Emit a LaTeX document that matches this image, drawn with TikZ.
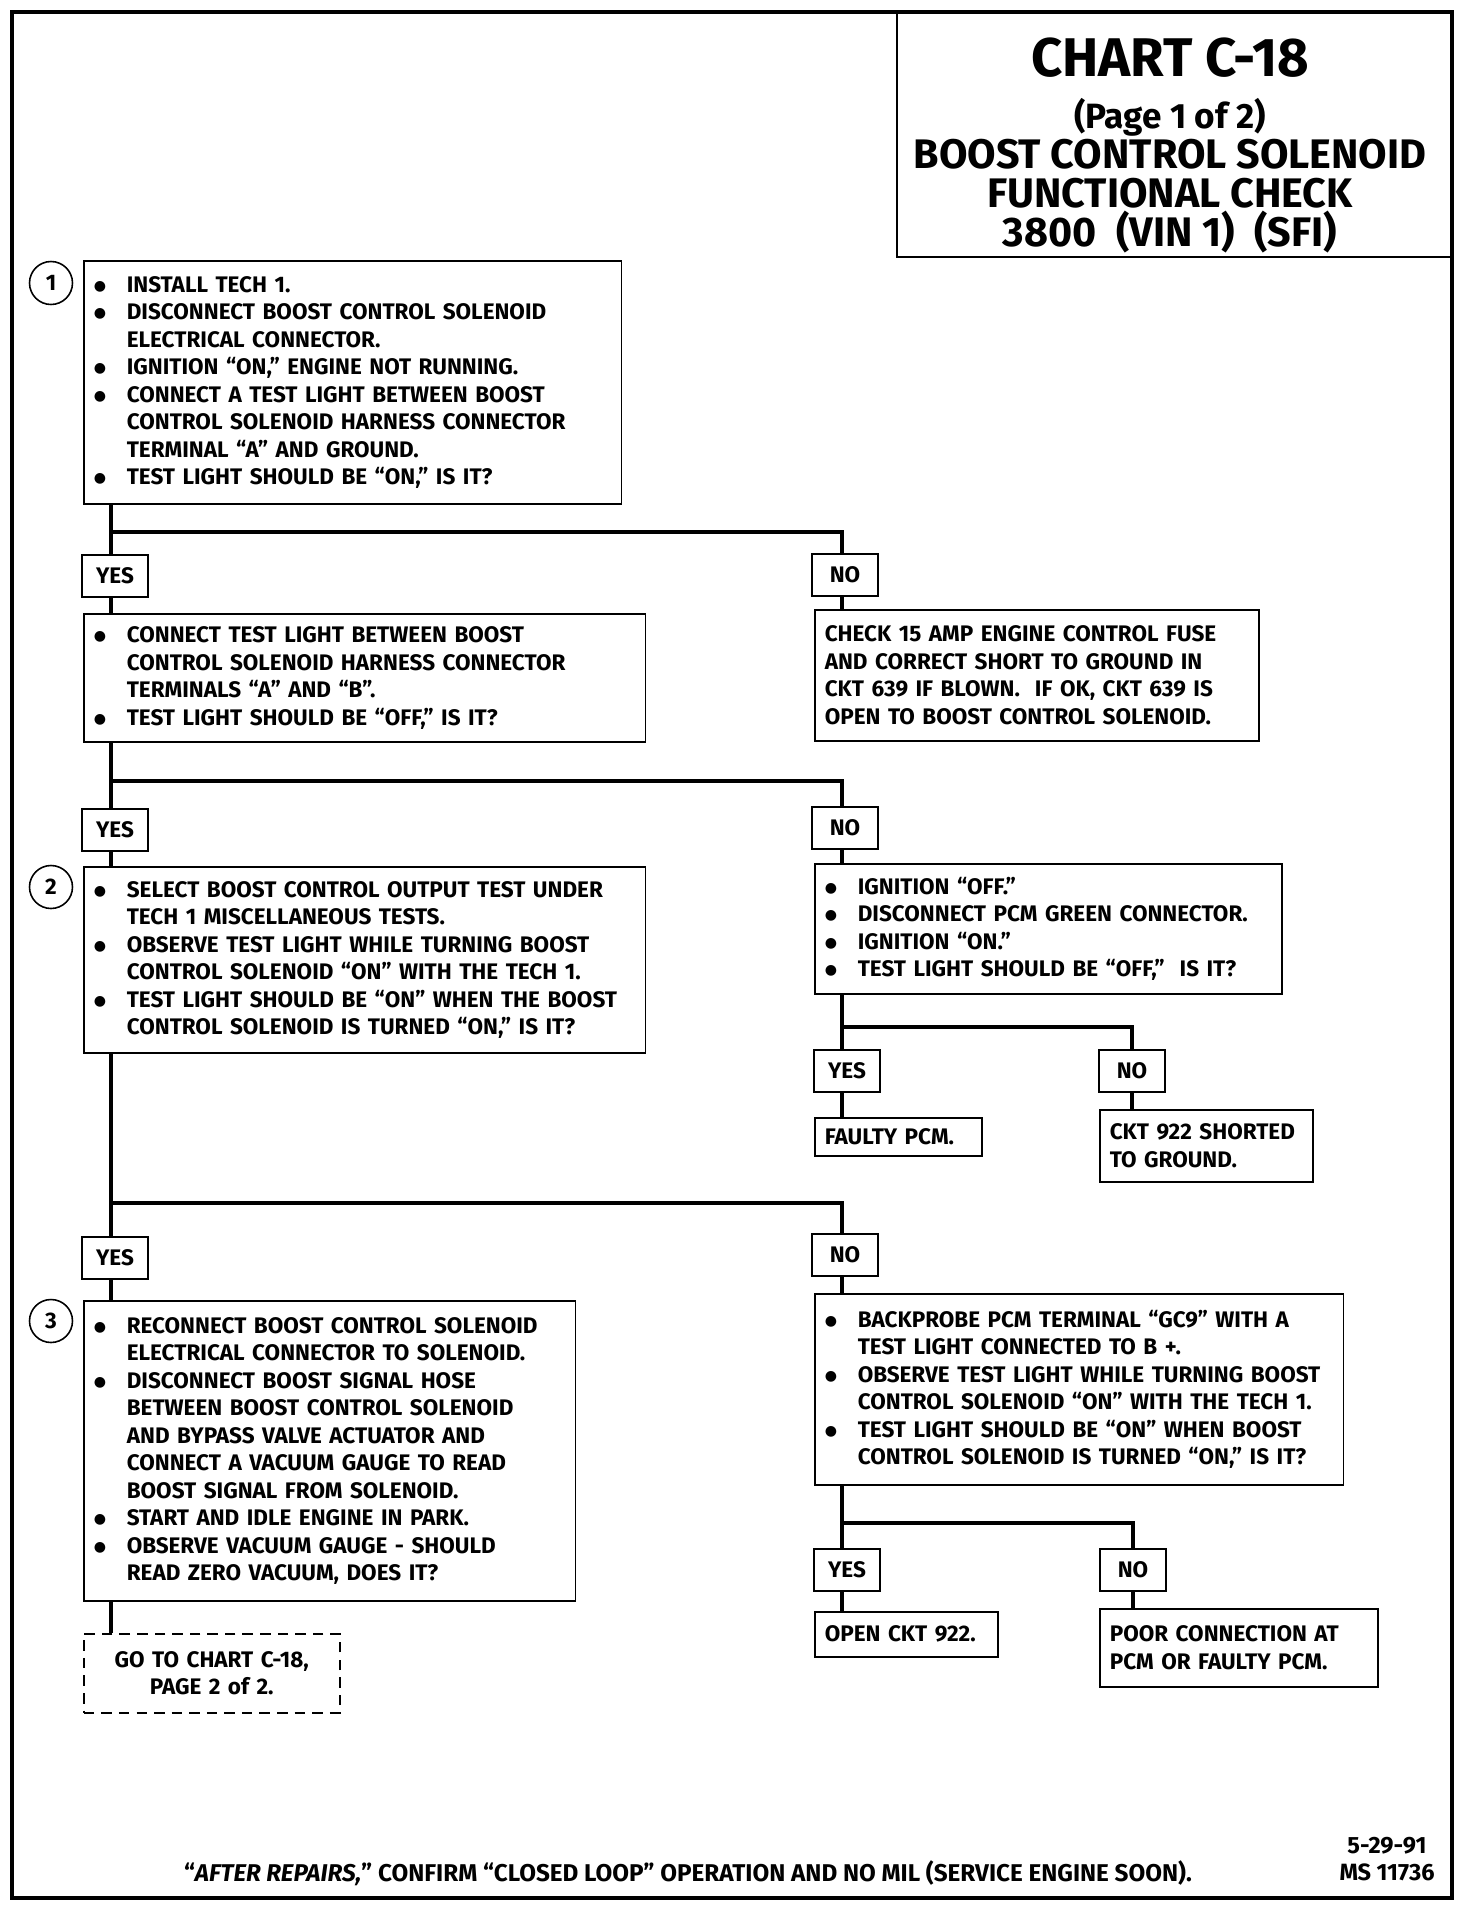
\documentclass[tikz,border=0pt]{standalone}
\usepackage{fontspec}
\setmainfont{Fira Sans}
\newfontfamily\symfont{DejaVu Sans}
\newcommand{\bodyfont}{\fontsize{12.8}{15.65}\selectfont\bfseries}
\newcommand{\bul}{\makebox[18.8pt][l]{\raisebox{1pt}{\symfont\fontsize{8}{8}\selectfont ●}}}
\newcommand{\ind}{\hspace*{18.8pt}}

\begin{document}
\begin{tikzpicture}[
    x=0.02cm, y=-0.02cm,
    wire/.style={line width=2.6pt},
    chkbox/.style={draw, line width=0.9pt, anchor=north west, align=left, inner xsep=0.2cm, inner ysep=0pt, font=\bodyfont},
    answer/.style={draw, line width=0.9pt, minimum width=1.32cm, minimum height=0.84cm, inner sep=0pt, font=\bodyfont},
    stepnum/.style={draw, circle, line width=0.9pt, minimum size=0.86cm, inner sep=0pt, font=\bodyfont},
    pagelink/.style={chkbox, align=center, dash pattern=on 6pt off 4pt}
]
    \useasboundingbox (0,0) rectangle (1472,1910);
    \draw[line width=2.2pt] (12,12) rectangle (1452,1898);

    % title block
    \node[draw, line width=1.4pt, anchor=north west, minimum width=11.12cm, minimum height=4.88cm] (titlebox) at (896,12) {};
    \node[font=\fontsize{31}{33}\selectfont\bfseries] (chart) at (1170,58) {CHART C-18};
    \node[font=\fontsize{20}{22}\selectfont\bfseries] (page) at (1170,117) {(Page 1 of 2)};
    \node[font=\fontsize{23.5}{25}\selectfont\bfseries] (ttla) at (1170,154) {BOOST CONTROL SOLENOID};
    \node[font=\fontsize{23.5}{25}\selectfont\bfseries] (ttlb) at (1170,193) {FUNCTIONAL CHECK};
    \node[font=\fontsize{23.5}{25}\selectfont\bfseries] (ttlc) at (1170,232) {3800\ \ (VIN 1)\ \ (SFI)};

    % step 1
    \node[stepnum] (step1) at (51,283) {1};
    \node[chkbox, text width=10.36cm, minimum height=4.86cm] (chk1) at (83,260) {\bul INSTALL TECH 1.\\
        \bul DISCONNECT BOOST CONTROL SOLENOID\\
        \ind ELECTRICAL CONNECTOR.\\
        \bul IGNITION “ON,” ENGINE NOT RUNNING.\\
        \bul CONNECT A TEST LIGHT BETWEEN BOOST\\
        \ind CONTROL SOLENOID HARNESS CONNECTOR\\
        \ind TERMINAL “A” AND GROUND.\\
        \bul TEST LIGHT SHOULD BE “ON,” IS IT?};
    \coordinate (br1) at (111,532);
    \node[answer] (yes1) at (115,576) {YES};
    \node[answer] (no1) at (845,575) {NO};
    \node[chkbox, text width=10.84cm, minimum height=2.56cm] (chk1b) at (83,613) {\bul CONNECT TEST LIGHT BETWEEN BOOST\\
        \ind CONTROL SOLENOID HARNESS CONNECTOR\\
        \ind TERMINALS “A” AND “B”.\\
        \bul TEST LIGHT SHOULD BE “OFF,” IS IT?};
    \node[chkbox, text width=8.48cm, minimum height=2.62cm] (fuse) at (814,609) {CHECK 15 AMP ENGINE CONTROL FUSE\\
        AND CORRECT SHORT TO GROUND IN\\
        CKT 639 IF BLOWN.\ \ IF OK, CKT 639 IS\\
        OPEN TO BOOST CONTROL SOLENOID.};

    % step 2
    \coordinate (br2) at (111,781);
    \node[answer] (yes2) at (115,830) {YES};
    \node[answer] (no2) at (845,828) {NO};
    \node[stepnum] (step2) at (51,887) {2};
    \node[chkbox, text width=10.84cm, minimum height=3.72cm] (chk2) at (83,866) {\bul SELECT BOOST CONTROL OUTPUT TEST UNDER\\
        \ind TECH 1 MISCELLANEOUS TESTS.\\
        \bul OBSERVE TEST LIGHT WHILE TURNING BOOST\\
        \ind CONTROL SOLENOID “ON” WITH THE TECH 1.\\
        \bul TEST LIGHT SHOULD BE “ON” WHEN THE BOOST\\
        \ind CONTROL SOLENOID IS TURNED “ON,” IS IT?};
    \node[chkbox, text width=8.94cm, minimum height=2.6cm] (pcmoff) at (814,863) {\bul IGNITION “OFF.”\\
        \bul DISCONNECT PCM GREEN CONNECTOR.\\
        \bul IGNITION “ON.”\\
        \bul TEST LIGHT SHOULD BE “OFF,”\ \ IS IT?};
    \coordinate (br2b) at (842,1027);
    \node[answer] (yes2b) at (847,1071) {YES};
    \node[answer] (no2b) at (1132,1071) {NO};
    \node[chkbox, text width=2.94cm, minimum height=0.76cm] (faulty) at (814,1117) {FAULTY PCM.};
    \node[chkbox, text width=3.86cm, minimum height=1.44cm] (short) at (1099,1109) {CKT 922 SHORTED\\
        TO GROUND.};

    % step 3
    \coordinate (br3) at (111,1203);
    \node[answer] (yes3) at (115,1258) {YES};
    \node[answer] (no3) at (845,1255) {NO};
    \node[stepnum] (step3) at (51,1321) {3};
    \node[chkbox, text width=9.44cm, minimum height=6.0cm] (chk3) at (83,1300) {\bul RECONNECT BOOST CONTROL SOLENOID\\
        \ind ELECTRICAL CONNECTOR TO SOLENOID.\\
        \bul DISCONNECT BOOST SIGNAL HOSE\\
        \ind BETWEEN BOOST CONTROL SOLENOID\\
        \ind AND BYPASS VALVE ACTUATOR AND\\
        \ind CONNECT A VACUUM GAUGE TO READ\\
        \ind BOOST SIGNAL FROM SOLENOID.\\
        \bul START AND IDLE ENGINE IN PARK.\\
        \bul OBSERVE VACUUM GAUGE - SHOULD\\
        \ind READ ZERO VACUUM, DOES IT?};
    \node[chkbox, text width=10.18cm, minimum height=3.82cm] (probe) at (814,1293) {\bul BACKPROBE PCM TERMINAL “GC9” WITH A\\
        \ind TEST LIGHT CONNECTED TO B +.\\
        \bul OBSERVE TEST LIGHT WHILE TURNING BOOST\\
        \ind CONTROL SOLENOID “ON” WITH THE TECH 1.\\
        \bul TEST LIGHT SHOULD BE “ON” WHEN BOOST\\
        \ind CONTROL SOLENOID IS TURNED “ON,” IS IT?};
    \coordinate (br3b) at (842,1523);
    \node[answer] (yes3b) at (847,1570) {YES};
    \node[answer] (no3b) at (1133,1570) {NO};
    \node[chkbox, text width=3.26cm, minimum height=0.9cm] (openckt) at (814,1611) {OPEN CKT 922.};
    \node[chkbox, text width=5.16cm, minimum height=1.56cm] (poor) at (1099,1608) {POOR CONNECTION AT\\
        PCM OR FAULTY PCM.};
    \node[pagelink, text width=4.72cm, minimum height=1.58cm] (nextpage) at (83,1633) {GO TO CHART C-18,\\
        PAGE 2 of 2.};

    % main line
    \draw[wire] (chk1.south -| br1) -- (yes1.north -| br1);
    \draw[wire] (yes1.south -| br1) -- (chk1b.north -| br1);
    \draw[wire] (chk1b.south -| br1) -- (yes2.north -| br1);
    \draw[wire] (yes2.south -| br1) -- (chk2.north -| br1);
    \draw[wire] (chk2.south -| br1) -- (yes3.north -| br1);
    \draw[wire] (yes3.south -| br1) -- (chk3.north -| br1);
    \draw[wire] (chk3.south -| br1) -- (nextpage.north -| br1);

    % branches
    \draw[wire] (br1) -| (no1.north -| br2b);
    \draw[wire] (no1.south -| br2b) -- (fuse.north -| br2b);
    \draw[wire] (br2) -| (no2.north -| br2b);
    \draw[wire] (no2.south -| br2b) -- (pcmoff.north -| br2b);
    \draw[wire] (pcmoff.south -| br2b) -- (yes2b.north -| br2b);
    \draw[wire] (br2b) -| (no2b);
    \draw[wire] (yes2b.south -| br2b) -- (faulty.north -| br2b);
    \draw[wire] (no2b) -- (no2b |- short.north);
    \draw[wire] (br3) -| (no3.north -| br3b);
    \draw[wire] (no3.south -| br3b) -- (probe.north -| br3b);
    \draw[wire] (probe.south -| br3b) -- (yes3b.north -| br3b);
    \draw[wire] (br3b) -| (no3b);
    \draw[wire] (yes3b.south -| br3b) -- (openckt.north -| br3b);
    \draw[wire] (no3b) -- (no3b |- poor.north);

    % footer
    \node[font=\fontsize{13.8}{15}\selectfont\bfseries] (repair) at (688,1873) {“\textit{AFTER REPAIRS,}” CONFIRM “CLOSED LOOP” OPERATION AND NO MIL (SERVICE ENGINE SOON).};
    \node[align=center, font=\fontsize{13.4}{15}\selectfont\bfseries] (stamp) at (1387,1859) {5-29-91\\MS 11736};
\end{tikzpicture}
\end{document}
